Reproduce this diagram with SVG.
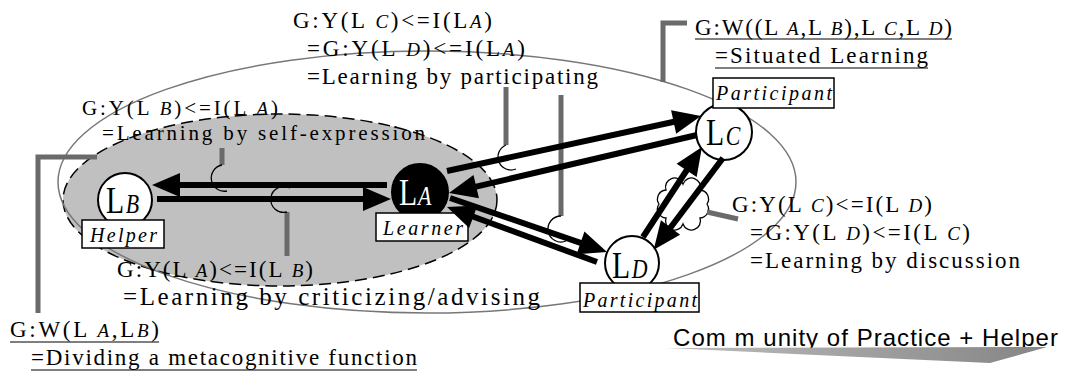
<svg xmlns="http://www.w3.org/2000/svg" width="1066" height="378" viewBox="0 0 1066 378">
<defs>
<style>
.f{font-family:"Liberation Serif","Times New Roman",serif;fill:#000}
.fm{font-size:23px}
.it{font-style:italic;font-size:19px}
.node circle{stroke:#000;stroke-width:2;fill:#fff}
.node .lbl{font-size:38px}
.node .lbl .it{font-size:28px}
.tag rect{fill:#fff;stroke:#000;stroke-width:1.5}
.tag text{font-style:italic;font-size:20px}
.arrow{stroke:#000;stroke-width:6;fill:none;marker-end:url(#ah)}
.gray{stroke:#6a6a6a;stroke-width:5;fill:none}
.hook{stroke:#000;stroke-width:1.3;fill:none}
.ul{stroke:#000;stroke-width:1.2}
</style>
<marker id="ah" markerUnits="userSpaceOnUse" markerWidth="30" markerHeight="26" refX="10" refY="12" orient="auto" overflow="visible">
<path d="M0,0 L28,12 L0,24 Z" fill="#000"/>
</marker>
<linearGradient id="gg" x1="0" y1="0" x2="1" y2="0">
<stop offset="0" stop-color="#bdbdbd"/>
<stop offset="1" stop-color="#858585"/>
</linearGradient>
</defs>

<g id="regions">
<ellipse cx="280" cy="200" rx="217" ry="86" fill="#c0c0c0" stroke="#000" stroke-width="1.5" stroke-dasharray="12 6"/>
<ellipse cx="427" cy="182" rx="369" ry="131" fill="none" stroke="#777" stroke-width="1.5"/>
</g>

<g id="labels" class="f">
<text class="fm" x="293" y="28" textLength="199">G:Y(L <tspan class="it">C</tspan>)&lt;=I(L<tspan class="it">A</tspan>)</text>
<text class="fm" x="307" y="56" textLength="218">=G:Y(L <tspan class="it">D</tspan>)&lt;=I(L<tspan class="it">A</tspan>)</text>
<text class="fm" x="307" y="84" textLength="291">=Learning by participating</text>

<text class="fm" x="82" y="115" textLength="196" style="font-size:21px">G:Y(L <tspan class="it">B</tspan>)&lt;=I(L <tspan class="it">A</tspan>)</text>
<text class="fm" x="102" y="140" textLength="323" style="font-size:21px">=Learning by self-expression</text>

<text class="fm" x="117" y="277" textLength="196">G:Y(L <tspan class="it">A</tspan>)&lt;=I(L <tspan class="it">B</tspan>)</text>
<text class="fm" x="123" y="305" textLength="417" style="font-size:25px">=Learning by criticizing/advising</text>

<text class="fm" x="10" y="337" textLength="149">G:W(L <tspan class="it">A</tspan>,L<tspan class="it">B</tspan>)</text>
<line class="ul" x1="10" y1="342" x2="159" y2="342"/>
<text class="fm" x="31" y="365" textLength="386">=Dividing a metacognitive function</text>
<line class="ul" x1="31" y1="370" x2="417" y2="370"/>

<text class="fm" x="695" y="35" textLength="257">G:W((L <tspan class="it">A</tspan>,L <tspan class="it">B</tspan>),L <tspan class="it">C</tspan>,L <tspan class="it">D</tspan>)</text>
<line class="ul" x1="695" y1="39" x2="952" y2="39"/>
<text class="fm" x="715" y="63" textLength="213">=Situated Learning</text>
<line class="ul" x1="715" y1="68" x2="928" y2="68"/>

<text class="fm" x="732" y="212" textLength="200">G:Y(L <tspan class="it">C</tspan>)&lt;=I(L <tspan class="it">D</tspan>)</text>
<text class="fm" x="750" y="240" textLength="220">=G:Y(L <tspan class="it">D</tspan>)&lt;=I(L <tspan class="it">C</tspan>)</text>
<text class="fm" x="750" y="268" textLength="270">=Learning by discussion</text>

<text x="673" y="346" textLength="385" style="font-family:'Liberation Sans',Arial,sans-serif;font-size:24px;fill:#000">Com m unity of Practice + Helper</text>
<path d="M667,348 L1047,347 L990,363 Z" fill="url(#gg)"/>
</g>

<g id="connectors">
<polyline class="gray" points="97,157 38,157 38,313"/>
<polyline class="gray" points="687,23 663,23 663,82"/>
<line class="gray" x1="222" y1="148" x2="222" y2="165"/>
<path class="hook" d="M222,165 A13,13 0 1 0 227,191"/>
<line class="gray" x1="287" y1="256" x2="287" y2="212"/>
<path class="hook" d="M290,188 A13,13 0 1 0 287,212"/>
<line class="gray" x1="506" y1="87" x2="506" y2="145"/>
<path class="hook" d="M506,145 A13,13 0 1 0 516,169"/>
<line class="gray" x1="561" y1="95" x2="561" y2="216"/>
<path class="hook" d="M561,216 A13,13 0 1 0 566,241"/>
<path class="hook" d="M707,204 A9,9 0 0 1 700,218 A9,9 0 0 1 683,224 A9,9 0 0 1 666,218 A9,9 0 0 1 659,204 A9,9 0 0 1 666,190 A9,9 0 0 1 683,184 A9,9 0 0 1 700,190 A9,9 0 0 1 707,204 Z" stroke-width="1"/>
<line class="gray" x1="707" y1="212" x2="738" y2="219"/>
</g>

<g id="node-LB" class="node f">
<circle cx="125" cy="200" r="27"/>
<text class="lbl" transform="translate(106,213) scale(0.78,1)">L<tspan class="it" dx="2">B</tspan></text>
<g class="tag"><rect x="82" y="220" width="82" height="28"/><text x="90" y="242" textLength="67">Helper</text></g>
</g>

<g id="node-LA" class="node f">
<circle cx="420" cy="192" r="28" style="fill:#000"/>
<text class="lbl" transform="translate(399,205) scale(0.78,1)" style="fill:#fff">L<tspan class="it" dx="1">A</tspan></text>
<g class="tag"><rect x="376" y="213" width="92" height="28"/><text x="383" y="235" textLength="80">Learner</text></g>
</g>

<g id="node-LC" class="node f">
<circle cx="724" cy="132" r="28"/>
<text class="lbl" transform="translate(706,145) scale(0.78,1)">L<tspan class="it" dx="2">C</tspan></text>
<g class="tag"><rect x="713" y="78" width="121" height="30"/><text x="716" y="100" textLength="116">Participant</text></g>
</g>

<g id="node-LD" class="node f">
<circle cx="632" cy="263" r="27"/>
<text class="lbl" transform="translate(612,278) scale(0.78,1)">L<tspan class="it" dx="2">D</tspan></text>
<g class="tag"><rect x="580" y="283" width="119" height="29"/><text x="583" y="307" textLength="114">Participant</text></g>
</g>

<g id="arrows">
<line class="arrow" x1="387" y1="185" x2="170" y2="185"/>
<line class="arrow" x1="157" y1="199" x2="373" y2="199"/>
<line class="arrow" x1="447" y1="171" x2="683.4" y2="119.8"/>
<line class="arrow" x1="697" y1="135" x2="466.5" y2="188.9"/>
<line class="arrow" x1="450" y1="198" x2="590" y2="246.1"/>
<line class="arrow" x1="597" y1="262" x2="463.9" y2="213.2"/>
<line class="arrow" x1="643" y1="237" x2="692.1" y2="162"/>
<line class="arrow" x1="723" y1="158" x2="664.5" y2="235.5"/>
</g>
</svg>
